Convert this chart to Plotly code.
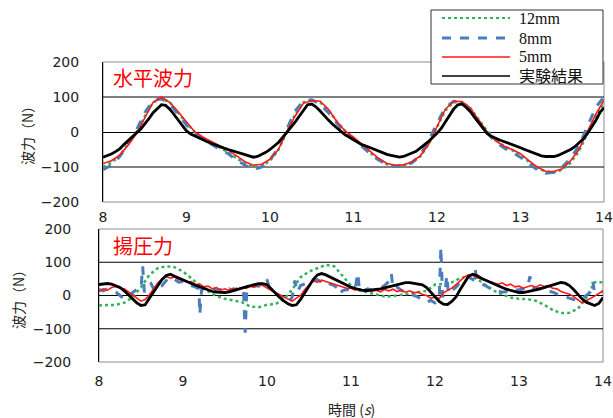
import plotly.graph_objects as go

# ---------------- data ----------------
# Top panel: horizontal wave force (水平波力), 0.1 s step for simulations
t_sim = [round(8 + 0.1 * i, 2) for i in range(61)]
top_12mm = [-100, -88, -68, -35, 0, 45, 85, 95, 85, 55, 25, 0, -18, -32, -45, -58, -75, -90, -100, -98,
            -82, -52, 0, 50, 85, 90, 85, 62, 30, 3, -18, -40, -60, -78, -92, -97, -95, -88, -70, -35,
            15, 62, 85, 85, 68, 35, 3, -22, -40, -52, -65, -85, -103, -113, -115, -108, -88, -55, -5, 45,
            85]
top_8mm = [-108, -95, -70, -35, 5, 55, 90, 95, 80, 50, 20, -5, -20, -35, -50, -62, -80, -95, -108, -100,
           -80, -45, 10, 60, 88, 92, 80, 55, 25, 0, -20, -42, -62, -80, -92, -98, -95, -88, -65, -25,
           25, 70, 88, 85, 65, 30, -2, -28, -45, -58, -72, -90, -108, -118, -115, -100, -75, -40, 15, 70,
           100]
top_5mm = [-90, -82, -66, -38, -5, 38, 85, 100, 85, 58, 30, 0, -15, -28, -40, -52, -68, -85, -95, -92,
           -78, -50, 0, 45, 82, 90, 88, 65, 30, 3, -15, -35, -55, -75, -90, -95, -94, -85, -68, -35,
           15, 65, 88, 87, 68, 35, 0, -25, -40, -50, -62, -82, -100, -112, -113, -105, -82, -50, 0, 50,
           90]

# Experimental results, 0.05 s step
t_exp = [round(8 + 0.05 * i, 2) for i in range(121)]
top_exp = [-72, -68, -63, -56, -48, -36, -24, -14, -3, 8, 22, 38, 55, 68, 78, 76, 65, 50, 34, 16,
           3, -6, -12, -18, -24, -28, -33, -38, -42, -46, -50, -54, -58, -62, -66, -69, -72, -70, -65, -58,
           -50, -40, -30, -16, -2, 12, 28, 45, 62, 78, 80, 72, 60, 46, 34, 22, 12, 2, -8, -15,
           -22, -30, -36, -40, -45, -49, -54, -59, -64, -67, -70, -72, -70, -66, -60, -55, -46, -36, -27, -15,
           -4, 10, 28, 46, 66, 78, 80, 70, 58, 42, 26, 10, -4, -12, -18, -23, -27, -31, -36, -41,
           -45, -50, -55, -60, -65, -68, -70, -71, -70, -67, -62, -57, -50, -42, -32, -20, -5, 12, 32, 55,
           70]

# Bottom panel: uplift pressure (揚圧力)
bot_12mm = [-30, -30, -28, -22, -5, 25, 62, 82, 88, 85, 72, 52, 30, 12, -2, -10, -15, -20, -33, -35,
            -28, -26, -12, 18, 55, 72, 82, 92, 88, 60, 30, 15, 8, 3, -3, -2, 2, 6, 10, 14,
            33, 35, 40, 52, 58, 50, 32, 15, 3, -6, -10, -11, -16, -28, -43, -53, -52, -40, -8, 40,
            40]
t_8mm_up = [8.00, 8.05, 8.10, 8.15, 8.20, 8.25, 8.30, 8.35, 8.40, 8.45, 8.50, 8.52, 8.54, 8.58, 8.62, 8.65,
            8.70, 8.75, 8.80, 8.85, 8.90, 8.95, 9.00, 9.05, 9.10, 9.15, 9.19, 9.20, 9.22, 9.25, 9.30, 9.35,
            9.40, 9.45, 9.50, 9.55, 9.60, 9.65, 9.72, 9.74, 9.76, 9.80, 9.85, 9.90, 9.95, 10.00, 10.03, 10.08,
            10.15, 10.20, 10.25, 10.30, 10.33, 10.36, 10.40, 10.45, 10.50, 10.55, 10.60, 10.65, 10.70, 10.75,
            10.80, 10.85, 10.87, 10.90, 10.95, 11.00, 11.05, 11.08, 11.10, 11.15, 11.20, 11.25, 11.30, 11.35,
            11.40, 11.45, 11.48, 11.50, 11.55, 11.60, 11.65, 11.70, 11.75, 11.80, 11.85, 11.90, 11.95, 12.00,
            12.05, 12.07, 12.09, 12.12, 12.14, 12.16, 12.20, 12.25, 12.30, 12.35, 12.40, 12.45, 12.48, 12.50,
            12.55, 12.60, 12.65, 12.70, 12.75, 12.80, 12.85, 12.90, 12.95, 13.00, 13.05, 13.10, 13.13, 13.15,
            13.20, 13.25, 13.30, 13.35, 13.40, 13.45, 13.50, 13.55, 13.60, 13.65, 13.70, 13.75, 13.80, 13.85,
            13.88, 13.90, 13.95, 14.00]
bot_8mm = [18, 14, 20, 16, 10, 0, -12, -5, 9, 18, 20, 88, 10, 25, 35, 20,
           38, 30, 45, 55, 48, 40, 42, 35, 30, 25, 20, -57, 15, 22, 18, 25,
           15, 18, 12, 20, 15, 22, 18, -112, 20, 25, 30, 28, 32, 48, 20, 10,
           0, -15, -22, -5, 45, 10, 30, 35, 40, 45, 48, 40, 45, 35,
           30, 20, 5, 15, 18, 16, 20, 68, 18, 15, 20, 15, 18, 22,
           30, 42, 66, 20, 25, 15, 10, 5, 0, -5, -15, -20, -15, -22,
           -10, 145, -5, 10, 60, 5, 15, 25, 40, 50, 55, 48, 78, 40,
           35, 30, 22, 18, 15, 10, 12, 8, 15, 18, 20, 22, 58, 25,
           20, 22, 18, 15, 10, 5, 0, -5, -8, -12, -15, -10, 0, 10,
           40, 10, 8, 12]
bot_5mm = [13, 20, 16, 24, 27, 22, 20, 12, 2, -8, -17, -12, 2, 20, 38, 50, 57, 52, 56, 48,
           46, 40, 42, 33, 34, 26, 28, 20, 24, 16, 20, 15, 22, 18, 24, 21, 28, 25, 33, 30,
           22, 14, 8, 2, -5, -10, -17, -8, 0, 18, 30, 44, 40, 46, 42, 38, 36, 31, 28, 22,
           22, 16, 20, 14, 18, 13, 16, 11, 18, 14, 19, 12, 16, 10, 14, 8, 10, 3, 0, -8,
           -5, -10, 8, 15, 22, 33, 45, 56, 62, 60, 54, 50, 44, 40, 37, 34, 38, 30, 34, 26,
           28, 22, 26, 30, 25, 32, 27, 30, 22, 20, 12, 9, 4, -3, -12, -22, -16, -10, -2, 6,
           14]
bot_exp = [33, 35, 36, 34, 30, 24, 14, 3, -10, -22, -30, -28, -8, 12, 32, 48, 60, 64, 58, 52,
           46, 41, 36, 31, 26, 21, 16, 12, 10, 9, 9, 11, 14, 18, 22, 26, 30, 33, 36, 36,
           32, 20, 6, -6, -16, -25, -30, -28, -12, 9, 30, 48, 62, 66, 62, 56, 49, 43, 36, 30,
           25, 21, 18, 15, 15, 16, 17, 20, 23, 26, 29, 32, 36, 39, 39, 37, 35, 32, 24, 11,
           -5, -18, -26, -27, -18, -4, 18, 40, 58, 64, 60, 52, 46, 40, 34, 29, 24, 19, 15, 11,
           9, 9, 11, 14, 17, 20, 24, 28, 32, 36, 39, 37, 30, 18, 3, -10, -20, -26, -30, -24,
           -6]

series_names = ["12mm", "8mm", "5mm", "実験結果"]
y_ticks = [-200, -100, 0, 100, 200]
x_ticks = [8, 9, 10, 11, 12, 13, 14]

# ---------------- styles ----------------
GREEN = "#33b35a"
BLUE = "#4a7ebb"
RED = "#ff1a1a"
BLACK = "#000000"
styles = [dict(color=GREEN, width=2.5, dash="dot"),
          dict(color=BLUE, width=3, dash="dash"),
          dict(color=RED, width=1.6, dash="solid"),
          dict(color=BLACK, width=2.8, dash="solid")]

fig = go.Figure()

def add_panel(xa, ya, xs, ys):
    for name, x, y, st in zip(series_names, xs, ys, styles):
        fig.add_trace(go.Scatter(x=x, y=y, mode="lines", name=name, showlegend=False,
                                 line=st, xaxis=xa, yaxis=ya))

add_panel("x", "y", [t_sim, t_sim, t_sim, t_exp], [top_12mm, top_8mm, top_5mm, top_exp])
add_panel("x2", "y2", [t_sim, t_8mm_up, t_exp, t_exp], [bot_12mm, bot_8mm, bot_5mm, bot_exp])

W, H = 613, 418
def px(x):
    return x / W
def py(y):
    return 1 - y / H

tickfont = dict(family="DejaVu Sans", size=14, color="#222")
common_x = dict(range=[8, 14], tickvals=x_ticks, showgrid=False, zeroline=False, showline=False,
                ticks="", tickfont=tickfont, automargin=False, ticklabeloverflow="allow")
common_y = dict(range=[-200, 200], tickvals=y_ticks, showgrid=False, zeroline=True,
                zerolinecolor="#000", zerolinewidth=1, showline=True, linecolor="#000", linewidth=1,
                ticks="", tickfont=tickfont, automargin=False)

fig.update_layout(
    template="none",
    width=W, height=H, autosize=False,
    margin=dict(l=0, r=0, t=0, b=0, pad=0),
    paper_bgcolor="white", plot_bgcolor="white",
    xaxis=dict(common_x, domain=[px(103), px(604)], anchor="y", ticklabelstandoff=5),
    yaxis=dict(common_y, domain=[py(202), py(62)], anchor="x", ticklabelstandoff=20),
    xaxis2=dict(common_x, domain=[px(99), px(603)], anchor="y2", ticklabelstandoff=9),
    yaxis2=dict(common_y, domain=[py(362), py(229)], anchor="x2", ticklabelstandoff=24),
    showlegend=False,
)

shapes = []
for xr, yr in (("x", "y"), ("x2", "y2")):
    # plot-area border
    shapes.append(dict(type="rect", xref=f"{xr} domain", yref=f"{yr} domain", x0=0, x1=1, y0=0, y1=1,
                       line=dict(color="#8c8c8c", width=1), layer="below"))
    for g in (100, -100):
        shapes.append(dict(type="line", xref=f"{xr} domain", yref=yr, x0=0, x1=1, y0=g, y1=g,
                           line=dict(color="#000", width=1), layer="below"))

# legend box (drawn as a key panel)
shapes.append(dict(type="rect", xref="paper", yref="paper", x0=px(431), x1=px(603), y0=py(84), y1=py(10),
                   fillcolor="white", line=dict(color="#333", width=1), layer="above"))
legend_rows = [18, 38, 57, 76]
legend_line_w = [2.2, 3, 1.6, 1.4]
annots = []
for name, st, ry, lw in zip(series_names, styles, legend_rows, legend_line_w):
    shapes.append(dict(type="line", xref="paper", yref="paper", x0=px(442), x1=px(510),
                       y0=py(ry), y1=py(ry), layer="above",
                       line=dict(color=st["color"], width=lw, dash=st["dash"])))
    annots.append(dict(text=name, x=px(517), y=py(ry), xref="paper", yref="paper",
                       xanchor="left", yanchor="middle", showarrow=False,
                       font=dict(family="Liberation Serif, Noto Sans CJK JP", size=16, color="#111")))
fig.update_layout(shapes=shapes)

annots += [
    dict(text="水平波力", x=px(111), y=py(78), xref="paper", yref="paper", xanchor="left", yanchor="middle",
         showarrow=False, font=dict(family="Noto Sans CJK JP", size=20, color="#ff0000")),
    dict(text="揚圧力", x=px(111), y=py(246), xref="paper", yref="paper", xanchor="left", yanchor="middle",
         showarrow=False, font=dict(family="Noto Sans CJK JP", size=20, color="#ff0000")),
    dict(text="波力（N）", x=px(27), y=py(132), xref="paper", yref="paper", textangle=-90,
         xanchor="center", yanchor="middle", showarrow=False,
         font=dict(family="Noto Sans CJK JP", size=14, color="#222")),
    dict(text="波力（N）", x=px(18), y=py(296), xref="paper", yref="paper", textangle=-90,
         xanchor="center", yanchor="middle", showarrow=False,
         font=dict(family="Noto Sans CJK JP", size=14, color="#222")),
    dict(text="時間 (<i>s</i>)", x=px(352), y=py(409), xref="paper", yref="paper",
         xanchor="center", yanchor="middle", showarrow=False,
         font=dict(family="Noto Sans CJK JP", size=14, color="#222")),
]
fig.update_layout(annotations=annots)

fig.write_html("out.html", config={"displayModeBar": False},
               post_script="document.body.style.margin='0';document.body.style.overflow='hidden';")
